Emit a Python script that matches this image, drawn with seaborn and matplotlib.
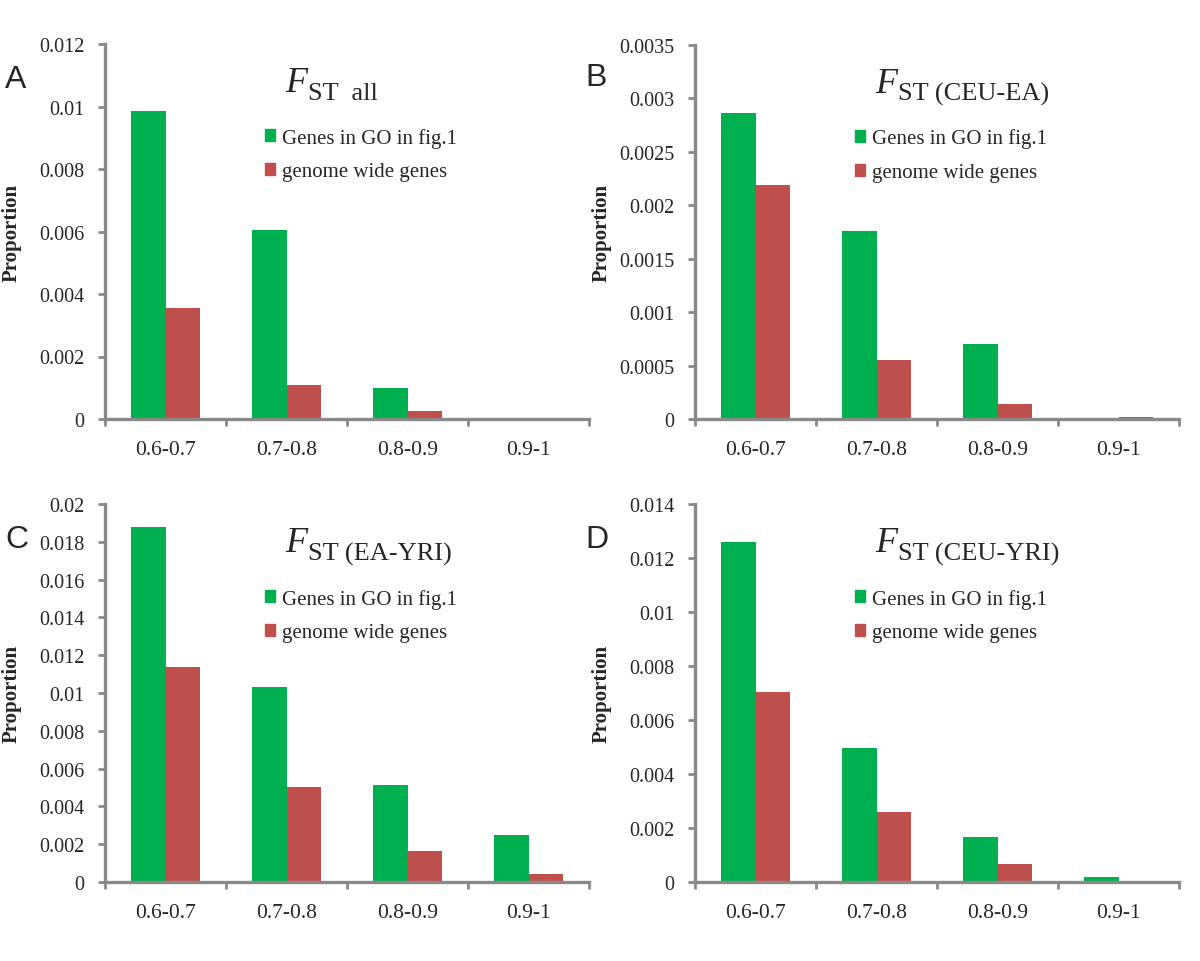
"""
Four-panel FST bar chart: proportion of genes per FST bin,
GO genes from fig.1 vs genome wide genes.
"""

import matplotlib
matplotlib.use("Agg")
import numpy as np
import pandas as pd
import matplotlib.pyplot as plt
import seaborn as sns
from matplotlib.patches import Patch
from matplotlib.ticker import FuncFormatter, MultipleLocator

bins = ["0.6-0.7", "0.7-0.8", "0.8-0.9", "0.9-1"]
series_names = ["Genes in GO in fig.1", "genome wide genes"]

go_all = [0.00985, 0.00605, 0.00098, 0.0]
gw_all = [0.00355, 0.00110, 0.00025, 0.0]

go_ceu_ea = [0.00286, 0.00176, 0.00070, 0.0]
gw_ceu_ea = [0.00219, 0.00055, 0.00014, 0.00002]

go_ea_yri = [0.0188, 0.0103, 0.00515, 0.0025]
gw_ea_yri = [0.0114, 0.00505, 0.00165, 0.0004]

go_ceu_yri = [0.0126, 0.00497, 0.00165, 0.0002]
gw_ceu_yri = [0.00705, 0.0026, 0.00068, 0.0]

subscripts = ["ST  all", "ST (CEU-EA)", "ST (EA-YRI)", "ST (CEU-YRI)"]
letters = ["A", "B", "C", "D"]
ymax = [0.012, 0.0035, 0.02, 0.014]
ystep = [0.002, 0.0005, 0.002, 0.002]

GREEN = "#00B050"
RED = "#C0504D"
GREY = "#898989"

sns.set_theme(style="white")
plt.rcParams["font.family"] = ["Liberation Serif", "DejaVu Serif"]


def make_frame(go, gw):
    return pd.DataFrame({
        "bin": bins * 2,
        "value": list(go) + list(gw),
        "series": [series_names[0]] * 4 + [series_names[1]] * 4,
    })


panels = [(go_all, gw_all), (go_ceu_ea, gw_ceu_ea),
          (go_ea_yri, gw_ea_yri), (go_ceu_yri, gw_ceu_yri)]

W, H = 1200, 962
fig = plt.figure(figsize=(W / 100, H / 100), dpi=100)
# axes boxes in pixels: left, right, top, bottom
px_boxes = [(105, 589, 45, 420), (695, 1179, 46, 420),
            (105, 589, 505, 883), (695, 1179, 505, 883)]
letter_pos = [(5, 80), (585, 78), (5, 540), (585, 540)]

for i, (go, gw) in enumerate(panels):
    l, r, t, b = px_boxes[i]
    ax = fig.add_axes([l / W, 1 - b / H, (r - l) / W, (b - t) / H])
    df = make_frame(go, gw)
    sns.barplot(data=df, x="bin", y="value", hue="series",
                palette=[GREEN, RED], width=0.57, legend=False, ax=ax,
                saturation=1, edgecolor="none", linewidth=0)
    ax.set_xlim(-0.5, 3.5)
    ax.set_ylim(0, ymax[i])
    ax.yaxis.set_major_locator(MultipleLocator(ystep[i]))
    ax.yaxis.set_major_formatter(FuncFormatter(lambda v, p: "%g" % round(v, 6)))
    ax.set_xlabel("")
    ax.set_ylabel("Proportion", fontsize=15, fontweight="bold")
    ax.yaxis.set_label_coords(-0.1715, 0.5)

    for side in ["top", "right"]:
        ax.spines[side].set_visible(False)
    for side in ["left", "bottom"]:
        ax.spines[side].set_color(GREY)
        ax.spines[side].set_linewidth(2.4)

    ax.tick_params(axis="y", which="major", direction="out", length=5,
                   width=2, color=GREY, labelsize=14.5, pad=10, left=True)
    ax.tick_params(axis="x", which="major", length=0, labelsize=15.5, pad=15)
    ax.set_xticks(np.arange(-0.5, 4.0, 1.0), minor=True)
    ax.tick_params(axis="x", which="minor", direction="out", length=5,
                   width=2, color=GREY, bottom=True)

    # title: italic F with a large subscript
    ftxt = ax.text(0.372, 0.875, "F", transform=ax.transAxes, fontsize=26,
                   fontstyle="italic", ha="left", va="baseline")
    ax.annotate(subscripts[i], xy=(1, 0), xycoords=ftxt, xytext=(0.5, 0),
                textcoords="offset points", fontsize=19, ha="left",
                va="baseline")

    handles = [Patch(color=GREEN, label=series_names[0]),
               Patch(color=RED, label=series_names[1])]
    ax.legend(handles=handles, loc="center left",
              bbox_to_anchor=(0.3306, 0.705), frameon=False,
              fontsize=15, handlelength=0.5, handleheight=0.5,
              handletextpad=0.3, labelspacing=0.7, borderaxespad=0,
              borderpad=0)

    fig.text(letter_pos[i][0] / W, 1 - letter_pos[i][1] / H, letters[i],
             fontsize=23, family="Liberation Sans", ha="left", va="center")

fig.savefig("out.png", dpi=100)
